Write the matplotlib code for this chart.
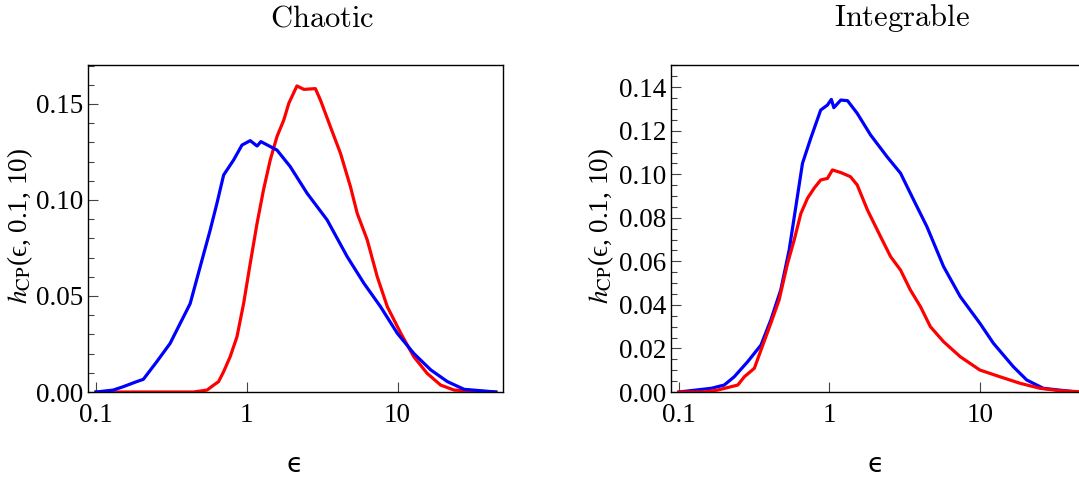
import matplotlib
matplotlib.use("Agg")
import matplotlib.pyplot as plt
from matplotlib.ticker import FixedLocator, MultipleLocator, NullLocator, FixedFormatter

# ---- data ----
chaotic_blue_x = [0.1, 0.13, 0.152, 0.186, 0.206, 0.253, 0.31, 0.362, 0.421, 0.491, 0.572, 0.634,
                  0.702, 0.817, 0.929, 1.054, 1.17, 1.24, 1.585, 1.94, 2.51, 3.41, 4.63, 5.98,
                  7.71, 9.95, 12.8, 16.6, 21.4, 27.6, 44.8]
chaotic_blue_y = [0.0, 0.001, 0.0028, 0.0054, 0.0066, 0.0158, 0.0253, 0.0358, 0.046, 0.0653, 0.0844,
                  0.0983, 0.113, 0.1208, 0.1286, 0.1309, 0.1281, 0.1304, 0.126, 0.1174, 0.1035,
                  0.0896, 0.0705, 0.0566, 0.0444, 0.0306, 0.0201, 0.0115, 0.0054, 0.0014, 0.0]

chaotic_red_x = [0.1, 0.443, 0.545, 0.603, 0.65, 0.702, 0.776, 0.861, 0.953, 1.054, 1.17, 1.29,
                 1.43, 1.585, 1.76, 1.9, 2.15, 2.39, 2.85, 3.08, 3.59, 4.18, 4.87, 5.4, 6.29,
                 7.33, 8.55, 10.5, 12.8, 15.7, 19.3, 23.7, 44.8]
chaotic_red_y = [0.0, 0.0, 0.001, 0.0036, 0.0054, 0.0106, 0.0184, 0.0288, 0.0462, 0.067, 0.0879,
                 0.1052, 0.1208, 0.133, 0.1417, 0.1504, 0.1594, 0.1576, 0.158, 0.152, 0.138,
                 0.1243, 0.1069, 0.093, 0.0792, 0.06, 0.0444, 0.0306, 0.0184, 0.0097, 0.0036,
                 0.001, 0.0]

integ_blue_x = [0.1, 0.164, 0.2, 0.233, 0.286, 0.351, 0.408, 0.475, 0.54, 0.598, 0.662, 0.751,
                0.875, 0.97, 1.03, 1.07, 1.19, 1.32, 1.53, 1.88, 2.42, 2.97, 3.63, 4.45, 5.74,
                7.41, 10.0, 12.3, 16.7, 20.5, 26.4, 43.9]
integ_blue_y = [0.0, 0.0017, 0.0032, 0.007, 0.0139, 0.0216, 0.0331, 0.0469, 0.0652, 0.0851, 0.105,
                0.1165, 0.1295, 0.1318, 0.1344, 0.1306, 0.1341, 0.1338, 0.128, 0.118, 0.108,
                0.1005, 0.0882, 0.0759, 0.0576, 0.0438, 0.0316, 0.0224, 0.0116, 0.0055, 0.0017, 0.0]

integ_red_x = [0.1, 0.147, 0.181, 0.246, 0.272, 0.317, 0.351, 0.408, 0.463, 0.527, 0.583, 0.646,
               0.715, 0.791, 0.875, 0.97, 1.047, 1.19, 1.38, 1.53, 1.79, 2.19, 2.55, 2.97, 3.45,
               4.03, 4.69, 5.74, 7.41, 10.0, 13.6, 18.5, 25.1, 34.1, 50.0]
integ_red_y = [0.0, 0.0, 0.0009, 0.0032, 0.007, 0.0109, 0.0193, 0.0316, 0.0423, 0.0591, 0.0698,
               0.082, 0.089, 0.0936, 0.0974, 0.0981, 0.102, 0.1008, 0.0989, 0.0951, 0.0836,
               0.0713, 0.0622, 0.056, 0.0469, 0.0392, 0.030, 0.0231, 0.0162, 0.0101, 0.007,
               0.004, 0.0017, 0.0006, 0.0]

titles = ["Chaotic", "Integrable"]
xtick_vals = [0.1, 1, 10]
xtick_labels = ["0.1", "1", "10"]
left_yticks = [0.00, 0.05, 0.10, 0.15]
right_yticks = [0.00, 0.02, 0.04, 0.06, 0.08, 0.10, 0.12, 0.14]

# ---- figure ----
W, H = 1079, 479
plt.rcParams['mathtext.fontset'] = 'stix'
fig = plt.figure(figsize=(W / 100, H / 100), dpi=100)

def px_rect(x0, y0, x1, y1):
    return [x0 / W, 1 - y1 / H, (x1 - x0) / W, (y1 - y0) / H]

ax1 = fig.add_axes(px_rect(88, 65, 503, 392))
ax2 = fig.add_axes(px_rect(671, 65, 1085, 392))

serif = ['Liberation Serif', 'DejaVu Serif']
lw = 2.3

ax1.plot(chaotic_red_x, chaotic_red_y, color='#ff0000', lw=lw, solid_joinstyle='round')
ax1.plot(chaotic_blue_x, chaotic_blue_y, color='#0000ff', lw=lw, solid_joinstyle='round')
ax2.plot(integ_blue_x, integ_blue_y, color='#0000ff', lw=lw, solid_joinstyle='round')
ax2.plot(integ_red_x, integ_red_y, color='#ff0000', lw=lw, solid_joinstyle='round')

for ax, yt, ymax, minor in [(ax1, left_yticks, 0.1703, 0.01), (ax2, right_yticks, 0.1502, 0.005)]:
    ax.set_xscale('log')
    ax.set_xlim(0.0885, 50)
    ax.set_ylim(0, ymax)
    ax.xaxis.set_major_locator(FixedLocator(xtick_vals))
    ax.xaxis.set_major_formatter(FixedFormatter(xtick_labels))
    ax.xaxis.set_minor_locator(NullLocator())
    ax.yaxis.set_major_locator(FixedLocator(yt))
    ax.set_yticklabels([f"{v:.2f}" for v in yt])
    ax.yaxis.set_minor_locator(MultipleLocator(minor))
    ax.tick_params(which='both', direction='in', top=False, right=False,
                   labelsize=19.5, width=0.8, color='#444444')
    ax.tick_params(which='major', length=7)
    ax.tick_params(which='minor', length=4)
    ax.tick_params(axis='x', which='major', pad=8)
    ax.tick_params(axis='y', which='major', pad=3.5)
    for lab in ax.get_xticklabels() + ax.get_yticklabels():
        lab.set_fontfamily(serif)
    for s in ax.spines.values():
        s.set_linewidth(1.0)

# titles (Computer Modern look)
fig.text(322 / W, 1 - 18 / H, r"$\mathrm{" + titles[0] + "}$", ha='center', va='center',
         fontsize=22, math_fontfamily='cm')
fig.text(902 / W, 1 - 18 / H, r"$\mathrm{" + titles[1] + "}$", ha='center', va='center',
         fontsize=22, math_fontfamily='cm')

# x labels
fig.text(295 / W, 1 - 465 / H, "\u03f5", ha='center', va='center', fontsize=19,
         family='DejaVu Sans')
fig.text(876 / W, 1 - 465 / H, "\u03f5", ha='center', va='center', fontsize=19,
         family='DejaVu Sans')

# y labels
ylab = r"$h_{\mathrm{CP}}$(" + "\u03f5, 0.1, 10)"
fig.text(20 / W, 1 - 226 / H, ylab, ha='center', va='center', rotation=90, fontsize=19.5,
         family=serif)
fig.text(601 / W, 1 - 226 / H, ylab, ha='center', va='center', rotation=90, fontsize=19.5,
         family=serif)

fig.savefig("out.png", dpi=100)
